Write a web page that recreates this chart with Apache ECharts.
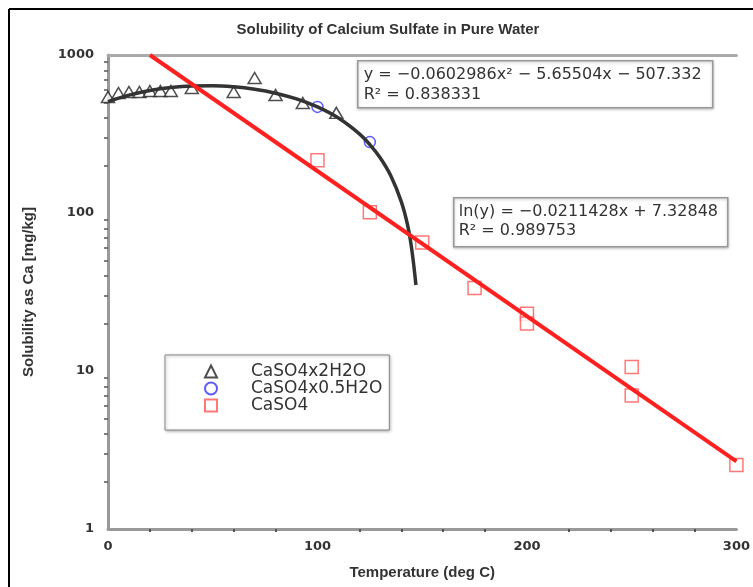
<!DOCTYPE html>
<html>
<head>
<meta charset="utf-8">
<script src="https://cdn.jsdelivr.net/npm/echarts@6/dist/echarts.min.js"></script>
<style>
  html, body { margin: 0; padding: 0; background: #fff; }
  #chart { width: 753px; height: 587px; }
</style>
</head>
<body>
<div id="chart"></div>
<script>
// measured points
const dihydrateT = [0, 5, 10, 15, 20, 25, 30, 40, 60, 70, 80, 93, 109];
const dihydrateS = [542, 575, 583, 583, 592, 592, 592, 618, 583, 715, 558, 497, 430];

const hemihydrateT = [100, 125];
const hemihydrateS = [469, 281];

const anhydriteT = [100, 125, 150, 175, 200, 200, 250, 250, 300];
const anhydriteS = [216, 101, 65, 33.5, 23, 20, 10.6, 7.0, 2.54];

// fitted curves
const polyFitT = [0, 10, 20, 30, 40, 50, 60, 70, 80, 90, 100, 110, 120, 125, 130, 135, 140, 143, 145, 147];
const polyFitS = [507, 557, 596, 623, 637, 639, 629, 607, 573, 527, 469, 399, 317, 271, 223, 172, 118, 84, 59, 35];

const expFitT = [20, 300];
const expFitS = [1000, 2.68];

const xTicks = [0, 100, 200, 300];
const yTicks = [1, 10, 100, 1000];

const pairs = (xs, ys) => xs.map((x, i) => [x, ys[i]]);

const myChart = echarts.init(document.getElementById('chart'));

const boldFont = { fontFamily: 'Liberation Sans', fontWeight: 'bold', fontSize: 15, color: '#333' };

const option = {
  animation: false,
  backgroundColor: '#fff',
  title: {
    text: 'Solubility of Calcium Sulfate in Pure Water',
    left: 383,
    top: 17,
    textAlign: 'center',
    textStyle: boldFont
  },
  grid: { left: 108, right: 13, top: 55, bottom: 58, containLabel: false },
  legend: {
    data: ['CaSO4x2H2O', 'CaSO4x0.5H2O', 'CaSO4'],
    orient: 'vertical',
    left: 165,
    top: 355,
    padding: [8, 7, 16, 39],
    itemGap: 0,
    itemWidth: 12,
    itemHeight: 12,
    backgroundColor: '#fff',
    borderColor: '#888',
    borderWidth: 1,
    shadowColor: 'rgba(0,0,0,0.3)',
    shadowBlur: 3,
    shadowOffsetX: 1,
    shadowOffsetY: 1,
    textStyle: { fontFamily: 'DejaVu Sans', fontSize: 17, color: '#333', padding: [0, 0, 0, 29] }
  },
  xAxis: [{
    type: 'value',
    min: 0,
    max: 300,
    interval: 100,
    name: 'Temperature (deg C)',
    nameLocation: 'middle',
    nameGap: 36,
    nameTextStyle: boldFont,
    axisLine: { show: true, lineStyle: { color: '#999', width: 3 } },
    axisTick: { show: false },
    minorTick: { show: true, splitNumber: 5, length: 3, lineStyle: { color: '#555', width: 2 } },
    axisLabel: {
      margin: 11,
      fontFamily: 'DejaVu Sans', fontWeight: 'bold', fontSize: 13, color: '#333',
      formatter: v => xTicks.includes(v) ? String(v) : ''
    },
    splitLine: { show: false }
  }, {
    type: 'value',
    position: 'top',
    min: 0,
    max: 300,
    axisLine: { show: true, lineStyle: { color: '#aaa', width: 3 } },
    axisTick: { show: false },
    axisLabel: { show: false },
    splitLine: { show: false }
  }],
  yAxis: {
    type: 'log',
    logBase: 10,
    min: 1,
    max: 1000,
    name: 'Solubility as Ca [mg/kg]',
    nameLocation: 'middle',
    nameGap: 72,
    nameTextStyle: boldFont,
    axisLine: { show: true, lineStyle: { color: '#999', width: 3 } },
    axisTick: { show: false },
    minorTick: { show: true, splitNumber: 9, length: 4, lineStyle: { color: '#555', width: 1.5 } },
    axisLabel: {
      margin: 14,
      fontFamily: 'DejaVu Sans', fontWeight: 'bold', fontSize: 13, color: '#333',
      formatter: v => yTicks.includes(v) ? String(v) : ''
    },
    splitLine: { show: false }
  },
  graphic: [
    { type: 'line', shape: { x1: 9, y1: 9, x2: 9, y2: 587 }, style: { stroke: '#000', lineWidth: 2 } },
    { type: 'line', shape: { x1: 9, y1: 9, x2: 753, y2: 9 }, style: { stroke: '#000', lineWidth: 2 } },
    {
      type: 'group', left: 357, top: 60, z: 100,
      children: [
        { type: 'rect', shape: { x: 0, y: 0, width: 355, height: 47 },
          style: { fill: '#fff', stroke: '#999', lineWidth: 1.5, shadowColor: 'rgba(0,0,0,0.25)', shadowBlur: 3, shadowOffsetY: 1 } },
        { type: 'text', x: 6, y: 4,
          style: { text: 'y = \u22120.0602986x\u00b2 \u2212 5.65504x \u2212 507.332\nR\u00b2 = 0.838331',
                   font: '16px "DejaVu Sans"', fill: '#333', lineHeight: 20 } }
      ]
    },
    {
      type: 'group', left: 453, top: 197, z: 100,
      children: [
        { type: 'rect', shape: { x: 0, y: 0, width: 274, height: 49 },
          style: { fill: '#fff', stroke: '#999', lineWidth: 1.5, shadowColor: 'rgba(0,0,0,0.25)', shadowBlur: 3, shadowOffsetY: 1 } },
        { type: 'text', x: 5, y: 5,
          style: { text: 'ln(y) = \u22120.0211428x + 7.32848\nR\u00b2 = 0.989753',
                   font: '16px "DejaVu Sans"', fill: '#333', lineHeight: 19 } }
      ]
    }
  ],
  series: [
    {
      name: 'CaSO4x2H2O',
      type: 'scatter',
      symbol: 'triangle',
      symbolSize: [13, 11],
      itemStyle: { color: '#fff', borderColor: '#222', borderWidth: 1.5 },
      data: pairs(dihydrateT, dihydrateS),
      z: 3
    },
    {
      name: 'CaSO4x0.5H2O',
      type: 'scatter',
      symbol: 'circle',
      symbolSize: 11,
      itemStyle: { color: '#fff', borderColor: '#3333ff', borderWidth: 1.5 },
      data: pairs(hemihydrateT, hemihydrateS),
      z: 3
    },
    {
      name: 'CaSO4',
      type: 'scatter',
      symbol: 'rect',
      symbolSize: 13,
      itemStyle: { color: '#fff', borderColor: '#ff5555', borderWidth: 1.5 },
      data: pairs(anhydriteT, anhydriteS),
      z: 3
    },
    {
      name: 'poly fit',
      type: 'line',
      smooth: 0.4,
      showSymbol: false,
      symbol: 'none',
      lineStyle: { color: '#333', width: 3.5 },
      data: pairs(polyFitT, polyFitS),
      z: 4
    },
    {
      name: 'exp fit',
      type: 'line',
      showSymbol: false,
      symbol: 'none',
      lineStyle: { color: '#ff2020', width: 4 },
      data: pairs(expFitT, expFitS),
      z: 4
    }
  ]
};

myChart.setOption(option);
window.addEventListener('resize', () => {
  myChart.resize();
});
</script>
</body>
</html>
